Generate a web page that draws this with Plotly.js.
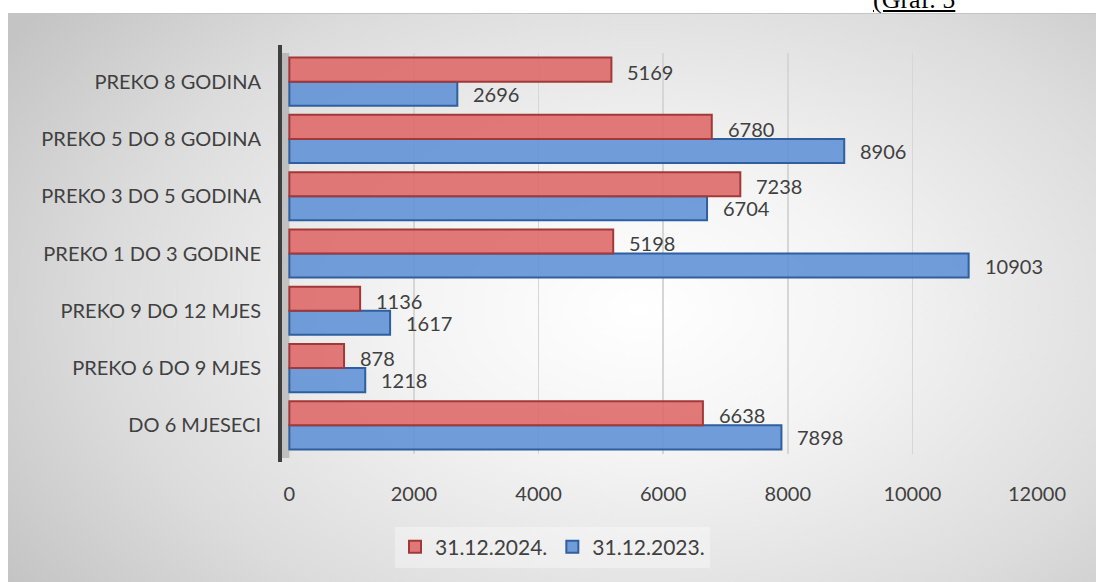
<!DOCTYPE html>
<html>
<head>
<meta charset="utf-8">
<script src="https://cdn.plot.ly/plotly-3.0.1.min.js"></script>
<style>
  html, body { margin:0; padding:0; background:#ffffff; }
  #wrap { position:relative; width:1096px; height:582px; overflow:hidden; background:#ffffff; }
  #bg { position:absolute; left:8px; top:13px; width:1088px; height:569px;
        border-top:1px solid #c4c4c4;
        background: radial-gradient(ellipse 70% 85% at 58% 52%, #ffffff 0%, #f4f4f4 30%, #dcdcdc 70%, #c4c4c4 100%); }
  #graf { position:absolute; left:873px; top:-13px; font-family:"Liberation Serif", "Times New Roman", serif;
          font-size:26px; line-height:26px; color:#000; text-decoration:underline; }
  #chart { position:absolute; left:0; top:0; width:1096px; height:582px; }
</style>
</head>
<body>
<div id="wrap">
  <div id="bg"></div>
  <div id="graf">(Graf. 5</div>
  <div id="chart"></div>
</div>
<script>
// Data
var categories = ["DO 6 MJESECI", "PREKO 6 DO 9 MJES", "PREKO 9 DO 12 MJES", "PREKO 1 DO 3 GODINE",
                  "PREKO 3 DO 5 GODINA", "PREKO 5 DO 8 GODINA", "PREKO 8 GODINA"];
var values2024 = [6638, 878, 1136, 5198, 7238, 6780, 5169];
var values2023 = [7898, 1218, 1617, 10903, 6704, 8906, 2696];
var seriesNames = ["31.12.2024.", "31.12.2023."];
var xTicks = [0, 2000, 4000, 6000, 8000, 10000, 12000];

var FONT = "Lato, 'Open Sans', sans-serif";
var TXT = "#404040";
var bargap = 0.16;

var trace2023 = {
  type: "bar", orientation: "h", name: seriesNames[1],
  y: categories, x: values2023,
  marker: { color: "rgba(98,146,214,0.9)", line: { color: "#2f5f9e", width: 2 } },
  legendrank: 2, hoverinfo: "x+name"
};
var trace2024 = {
  type: "bar", orientation: "h", name: seriesNames[0],
  y: categories, x: values2024,
  marker: { color: "rgba(222,106,106,0.9)", line: { color: "#a33838", width: 2 } },
  legendrank: 1, hoverinfo: "x+name"
};

var off = (1 - bargap) / 4;
var annotations = [];
categories.forEach(function (c, i) {
  annotations.push({ x: values2024[i], y: i + off, xref: "x", yref: "y", text: String(values2024[i]),
    showarrow: false, xanchor: "left", yanchor: "middle", xshift: 14, yshift: -2,
    font: { family: FONT, size: 20, color: TXT } });
  annotations.push({ x: values2023[i], y: i - off, xref: "x", yref: "y", text: String(values2023[i]),
    showarrow: false, xanchor: "left", yanchor: "middle", xshift: 14,
    font: { family: FONT, size: 20, color: TXT } });
});

var layout = {
  width: 1096, height: 582,
  margin: { l: 280, r: 59, t: 53, b: 128 },
  paper_bgcolor: "rgba(0,0,0,0)",
  plot_bgcolor: "rgba(0,0,0,0)",
  barmode: "group", bargap: bargap, bargroupgap: 0,
  showlegend: true,
  font: { family: FONT, size: 20, color: TXT },
  xaxis: {
    range: [-150, 12000], tickvals: xTicks, ticktext: xTicks.map(String),
    showgrid: true, gridcolor: "#d6d6d6", gridwidth: 1.5, zeroline: false,
    showline: false, ticks: "", ticklabelstandoff: 26,
    tickfont: { family: FONT, size: 20, color: TXT }, fixedrange: true
  },
  yaxis: {
    type: "category", categoryorder: "array", categoryarray: categories,
    showgrid: false, zeroline: false, showline: false, ticks: "",
    ticklabelstandoff: 18,
    tickfont: { family: FONT, size: 20, color: TXT }, fixedrange: true
  },
  legend: {
    orientation: "h", x: 0.36, xanchor: "center", y: -0.232, yanchor: "middle",
    bgcolor: "rgba(255,255,255,0.35)", borderwidth: 0, itemwidth: 30,
    font: { family: FONT, size: 21, color: TXT }, traceorder: "normal"
  },
  shapes: [
    { type: "rect", xref: "x", yref: "paper", x0: -150, x1: 0, y0: -0.01, y1: 1.0,
      fillcolor: "rgba(120,120,120,0.35)", line: { width: 0 }, layer: "below" },
    { type: "line", xref: "paper", yref: "paper", x0: 0, x1: 0, y0: -0.02, y1: 1.02,
      line: { color: "#3f3f3f", width: 4 } }
  ],
  annotations: annotations
};

Plotly.newPlot("chart", [trace2023, trace2024], layout, { displayModeBar: false, staticPlot: true });
</script>
</body>
</html>
